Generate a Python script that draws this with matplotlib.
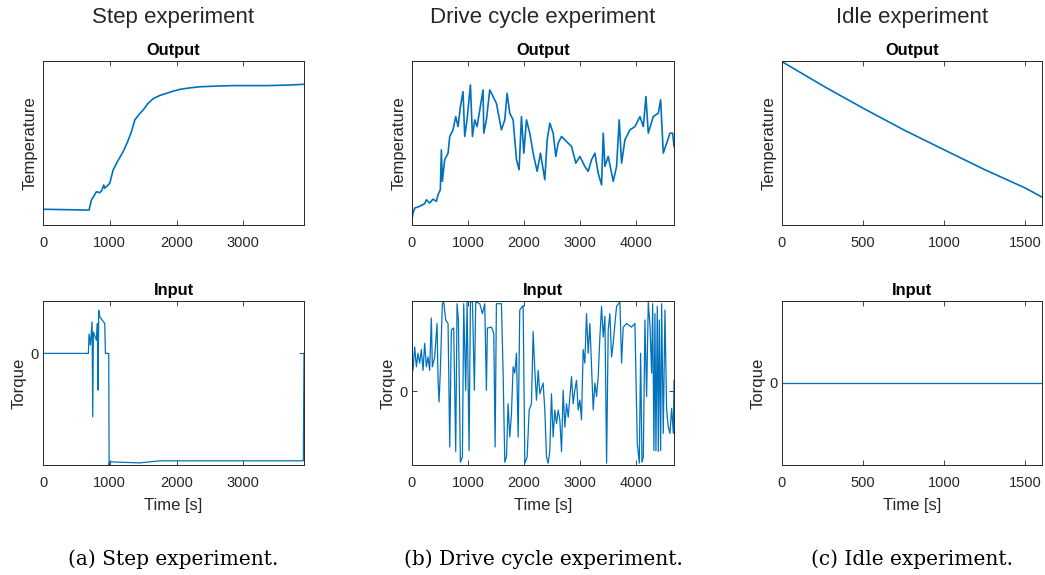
"""Step / drive cycle / idle experiments: output temperature and input torque."""

import numpy as np
import matplotlib
matplotlib.use('Agg')
import matplotlib.pyplot as plt

plt.rcParams['font.family'] = ['Liberation Sans', 'DejaVu Sans']

# =============================================================================
# Data (temperature in normalised units)
step_t_out = [0, 690, 725, 760, 800, 850, 880, 910, 925, 1000, 1050, 1120, 1200, 1260,
              1325, 1375, 1440, 1500, 1570, 1650, 1750, 1850, 1950, 2050, 2200, 2350,
              2600, 2850, 3100, 3350, 3650, 3910]
step_temp = [0.096, 0.091, 0.152, 0.175, 0.203, 0.197, 0.21, 0.244, 0.224, 0.254, 0.335,
             0.39, 0.447, 0.5, 0.569, 0.64, 0.675, 0.701, 0.74, 0.77, 0.79, 0.803, 0.816,
             0.827, 0.836, 0.843, 0.847, 0.85, 0.85, 0.85, 0.853, 0.858]

step_t_in = [0, 680, 690, 710, 735, 745, 755, 800, 815, 825, 835, 850, 925, 935, 985,
             990, 1000, 1450, 1750, 3900, 3910]
step_torque = [0, 0, 37, 16, 60, -121, 41, 25, 57, -70, 82, 70, 57, 0, 0,
               -213, -207, -209, -205, -205, 0]

drive_t_out = [0, 18, 48, 137, 227, 257, 316, 376, 436, 466, 507, 525, 543, 585, 645,
               675, 734, 782, 824, 866, 913, 943, 985, 1045, 1081, 1122, 1164, 1242,
               1272, 1284, 1331, 1391, 1451, 1510, 1600, 1660, 1701, 1749, 1809, 1869,
               1916, 1958, 2000, 2048, 2107, 2167, 2239, 2298, 2376, 2418, 2466, 2525,
               2573, 2615, 2675, 2764, 2854, 2931, 3003, 3092, 3152, 3212, 3272, 3331,
               3391, 3421, 3451, 3510, 3600, 3660, 3707, 3749, 3809, 3898, 3988, 4078,
               4138, 4185, 4227, 4316, 4406, 4448, 4495, 4555, 4615, 4663, 4687]
drive_temp = [0.032, 0.073, 0.103, 0.114, 0.130, 0.154, 0.134, 0.158, 0.144, 0.185,
              0.215, 0.458, 0.266, 0.398, 0.438, 0.540, 0.580, 0.661, 0.600, 0.722,
              0.813, 0.540, 0.641, 0.854, 0.540, 0.641, 0.600, 0.763, 0.824, 0.560,
              0.641, 0.824, 0.783, 0.742, 0.580, 0.641, 0.803, 0.682, 0.641, 0.398,
              0.337, 0.661, 0.438, 0.641, 0.560, 0.438, 0.327, 0.438, 0.276, 0.519,
              0.621, 0.560, 0.418, 0.499, 0.540, 0.509, 0.479, 0.377, 0.418, 0.357,
              0.327, 0.398, 0.438, 0.316, 0.245, 0.560, 0.357, 0.418, 0.266, 0.357,
              0.641, 0.377, 0.519, 0.580, 0.600, 0.661, 0.600, 0.783, 0.560, 0.661,
              0.682, 0.763, 0.438, 0.499, 0.560, 0.560, 0.479]

drive_t_in = [0, 18, 48, 78, 107, 137, 167, 197, 227, 257, 287, 316, 346, 364, 406, 448,
              466, 484, 507, 543, 567, 603, 645, 675, 704, 746, 782, 806, 830, 866, 902,
              925, 961, 985, 1021, 1045, 1081, 1116, 1140, 1212, 1260, 1301, 1331, 1349,
              1421, 1463, 1487, 1510, 1600, 1630, 1660, 1690, 1719, 1749, 1779, 1809,
              1839, 1869, 1899, 1928, 1988, 2018, 2060, 2096, 2137, 2167, 2197, 2227,
              2257, 2287, 2346, 2376, 2406, 2436, 2466, 2495, 2525, 2555, 2585, 2615,
              2645, 2675, 2704, 2734, 2764, 2794, 2824, 2854, 2883, 2913, 2943, 2973,
              3003, 3032, 3062, 3092, 3122, 3152, 3182, 3212, 3242, 3272, 3301, 3331,
              3361, 3391, 3421, 3451, 3481, 3510, 3540, 3570, 3600, 3630, 3660, 3719,
              3749, 3779, 3838, 3928, 3988, 4030, 4066, 4090, 4114, 4138, 4167, 4197,
              4227, 4257, 4287, 4305, 4328, 4346, 4364, 4388, 4406, 4424, 4448, 4466,
              4495, 4525, 4555, 4585, 4615, 4645, 4675, 4687]
drive_torque = [46, 23, 49, 27, 42, 31, 46, 23, 53, 27, 38, 23, 81, 27, 38, 75, 12, -12,
                23, 97, 99, 79, 75, -62, 68, 70, -67, 97, 79, -79, -73, 97, 1, 99, -66,
                99, 99, 1, 99, 97, 86, 97, 1, 70, 71, 64, -62, 97, 97, 20, -79, -73, -14,
                -51, -25, 27, 20, 42, -51, 90, 95, -80, -73, -21, -14, 66, 23, -10, 23,
                -3, 9, -21, -73, -80, -66, -3, -51, -21, -36, -21, -32, -67, 1, -40, -14,
                -29, -6, 16, -14, 1, 12, -21, -10, -32, 46, 31, 86, 42, 75, 27, -21, 9,
                -6, 16, 60, 94, 60, 83, -80, 68, 86, 38, 53, 75, 94, 99, 31, 71, 75, 71,
                75, -58, -80, 42, -79, -73, 79, -6, 99, 73, 20, 97, -66, 86, -66, 94,
                -67, 79, -66, 97, -47, 90, -21, -40, -47, -19, -47, 12]

idle_t_out = [0, 250, 500, 750, 1000, 1250, 1500, 1602]
idle_temp = [0.996, 0.85, 0.712, 0.58, 0.458, 0.337, 0.225, 0.170]
idle_t_in = [0, 1602]
idle_torque = [0, 0]

col_titles = ["Step experiment", "Drive cycle experiment", "Idle experiment"]
captions = ["(a) Step experiment.", "(b) Drive cycle experiment.", "(c) Idle experiment."]
xmax = [3910, 4687, 1602]
torque_lim = [(-213, 100), (-82, 100), (-1, 1)]
xticks = [[0, 1000, 2000, 3000], [0, 1000, 2000, 3000, 4000], [0, 500, 1000, 1500]]

# =============================================================================
blue = '#0072BD'
grey = '#262626'

fig = plt.figure(figsize=(10.45, 5.75), dpi=100)

lefts = [43/1045, 412/1045, 782/1045]
widths = [261/1045, 262/1045, 260/1045]
h = 164/575

series_out = [(step_t_out, step_temp), (drive_t_out, drive_temp), (idle_t_out, idle_temp)]
series_in = [(step_t_in, step_torque), (drive_t_in, drive_torque), (idle_t_in, idle_torque)]


def style(ax):
    ax.tick_params(direction='in', top=True, right=True, length=3.5, width=0.6,
                   labelsize=10.5, labelcolor=grey, color=grey)
    ax.tick_params(axis='x', pad=8)
    ax.tick_params(axis='y', pad=3)
    for s in ax.spines.values():
        s.set_color(grey)
        s.set_linewidth(0.7)


for i in range(3):
    axo = fig.add_axes([lefts[i], 1 - 225/575, widths[i], h])
    axi = fig.add_axes([lefts[i], 1 - 465/575, widths[i], h])

    axo.plot(*series_out[i], color=blue, lw=1.2)
    axo.set_xlim(0, xmax[i])
    axo.set_ylim(0, 1)
    axo.set_yticks([])
    axo.set_xticks(xticks[i])
    axo.set_ylabel("Temperature", fontsize=12, color=grey, labelpad=4)
    axo.set_title("Output", fontsize=11.8, fontweight='bold', pad=4)
    style(axo)
    axo.tick_params(left=False, right=False)

    axi.plot(*series_in[i], color=blue, lw=0.9)
    axi.set_xlim(0, xmax[i])
    axi.set_ylim(*torque_lim[i])
    axi.set_yticks([0])
    axi.set_xticks(xticks[i])
    axi.set_ylabel("Torque", fontsize=12, color=grey, labelpad=3)
    axi.set_xlabel("Time [s]", fontsize=12, color=grey, labelpad=5.5)
    axi.set_title("Input", fontsize=11.8, fontweight='bold', pad=4)
    style(axi)

    cx = lefts[i] + widths[i] / 2
    fig.text(cx, 1 - 18/575, col_titles[i], ha='center', va='center',
             fontsize=16, color=grey)
    fig.text(cx, 1 - 559/575, captions[i], ha='center', va='center',
             fontsize=14.5, family='DejaVu Serif', color='black')

fig.savefig('out.png', dpi=100)
